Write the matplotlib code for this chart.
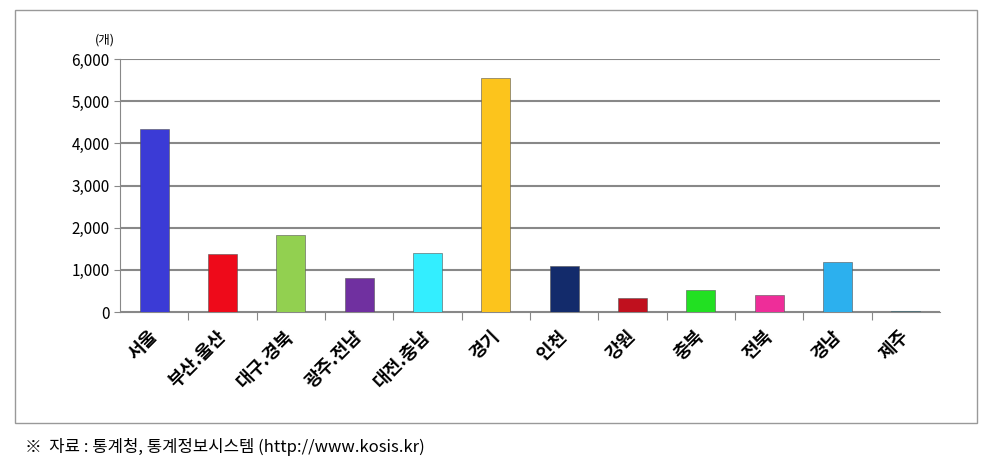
import matplotlib
matplotlib.use("Agg")
import matplotlib.pyplot as plt
from matplotlib.patches import Rectangle

plt.rcParams['font.family'] = ['Noto Sans CJK KR', 'DejaVu Sans']

categories = ['서울', '부산.울산', '대구.경북', '광주.전남', '대전.충남', '경기', '인천', '강원', '충북', '전북', '경남', '제주']
values = [4350, 1380, 1830, 810, 1390, 5560, 1090, 340, 510, 410, 1190, 30]
colors = ['#3b3bd6', '#ee0a1a', '#92d050', '#7030a0', '#33eeff', '#fcc41c', '#132b6b', '#c0101e', '#22e022', '#ee2d99', '#2cb0ee', '#2aa6c8']
yticks = [0, 1000, 2000, 3000, 4000, 5000, 6000]

W, H = 994, 473
fig = plt.figure(figsize=(W/100, H/100), dpi=100)
fig.patches.append(Rectangle((15/W, 1-423/H), 962/W, 413/H, transform=fig.transFigure,
                             fill=False, edgecolor='#999999', lw=1))
ax = fig.add_axes([120/W, 1-312/H, 820/W, 253/H])
x = range(len(categories))
ax.bar(x, values, width=0.42, color=colors, edgecolor='#555555', linewidth=0.4, zorder=3)
ax.set_xlim(-0.5, len(categories)-0.5)
ax.set_ylim(0, 6000)
ax.set_yticks(yticks)
ax.set_yticklabels([f'{v:,}' for v in yticks], fontsize=11)
ax.yaxis.grid(True, color='#888888', lw=1.5, zorder=0)
for s in ['top', 'right']:
    ax.spines[s].set_visible(False)
ax.spines['left'].set_color('#888888')
ax.spines['bottom'].set_color('#888888')
ax.set_xticks([i+0.5 for i in range(len(categories)-1)], minor=False)
ax.set_xticklabels([])
ax.tick_params(axis='x', length=6, color='#888888')
ax.tick_params(axis='y', length=4, color='#888888')
for i, c in enumerate(categories):
    ax.text(i+0.1, -350, c, rotation=45, ha='right', va='top', fontsize=13, fontweight='bold')
fig.text(95/W, 1-40/H, '(개)', fontsize=9, ha='left', va='center')
fig.text(25/W, 1-447/H, '※  자료 : 통계청, 통계정보시스템 (http://www.kosis.kr)', fontsize=12, va='center')
fig.savefig('out.png', dpi=100)
